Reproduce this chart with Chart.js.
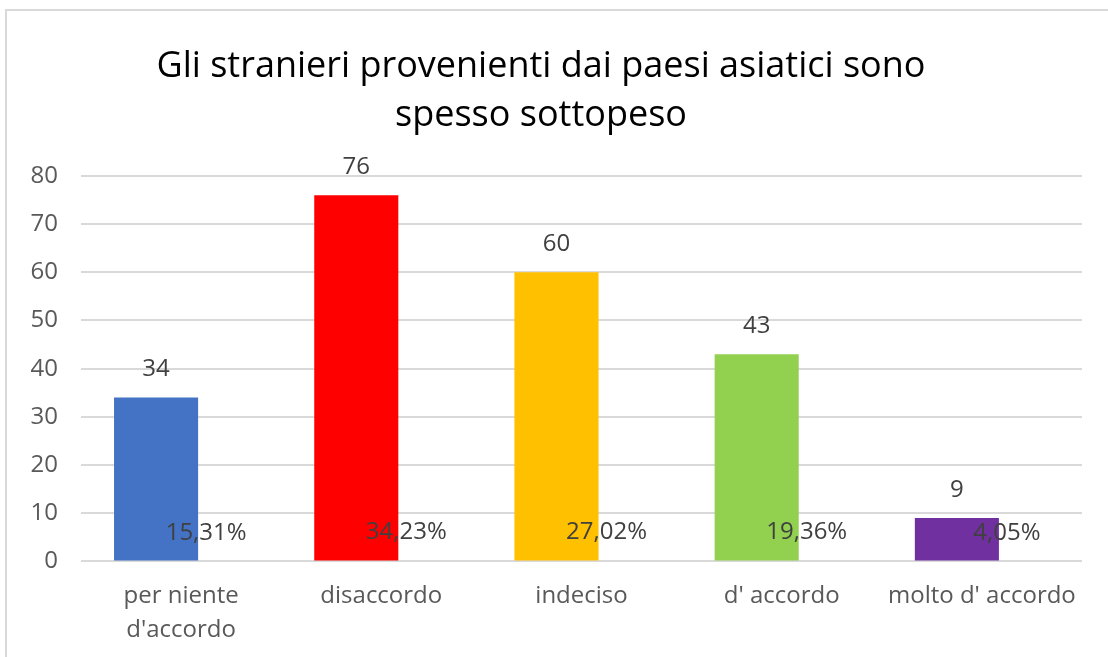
<!DOCTYPE html>
<html>
<head>
<meta charset="utf-8">
<script src="https://cdn.jsdelivr.net/npm/chart.js@4.4.1/dist/chart.umd.min.js"></script>
<style>
  html, body { margin: 0; padding: 0; background: #ffffff; overflow: hidden; }
  #wrap { position: relative; width: 1108px; height: 657px; }
  #frame { position: absolute; left: 5px; top: 9px; width: 1200px; height: 700px;
           border: 2px solid #d9d9d9; box-sizing: border-box; pointer-events: none; }
  canvas { position: absolute; left: 0; top: 0; }
</style>
</head>
<body>
<div id="wrap">
  <canvas id="chart" width="1108" height="657"></canvas>
  <div id="frame"></div>
</div>
<script>
// Survey answers and how many respondents chose each one
const categories = [['per niente', "d'accordo"], 'disaccordo', 'indeciso', "d' accordo", "molto d' accordo"];
const counts = [34, 76, 60, 43, 9];
const shares = [0.1531, 0.3423, 0.2702, 0.1936, 0.0405];
const barColors = ['#4472C4', '#FF0000', '#FFC000', '#92D050', '#7030A0'];
const yTicks = [0, 10, 20, 30, 40, 50, 60, 70, 80];
const titleLines = ['Gli stranieri provenienti dai paesi asiatici sono', 'spesso sottopeso'];

const FONT = "'Open Sans', 'Noto Sans', sans-serif";

function formatShare(v) {
  return (v * 100).toFixed(2).replace('.', ',') + '%';
}

// Writes each bar's value a little above its top
const barValueLabels = {
  id: 'barValueLabels',
  afterDatasetsDraw(chart) {
    const ctx = chart.ctx;
    ctx.save();
    ctx.font = '24px ' + FONT;
    ctx.fillStyle = '#404040';
    ctx.textAlign = 'center';
    ctx.textBaseline = 'middle';
    chart.data.datasets.forEach((ds, di) => {
      const meta = chart.getDatasetMeta(di);
      meta.data.forEach((bar, i) => {
        const v = ds.data[i];
        const text = di === 0 ? String(v) : formatShare(v);
        ctx.fillText(text, bar.x, bar.y - 28);
      });
    });
    ctx.restore();
  }
};

new Chart(document.getElementById('chart'), {
  type: 'bar',
  data: {
    labels: categories,
    datasets: [
      {
        label: 'Risposte',
        data: counts,
        backgroundColor: barColors,
        borderWidth: 0,
        categoryPercentage: 0.5,
        barPercentage: 1.68
      },
      {
        label: 'Percentuale',
        data: shares,
        backgroundColor: 'rgba(0,0,0,0)',
        borderWidth: 0,
        categoryPercentage: 0.5,
        barPercentage: 1.68
      }
    ]
  },
  options: {
    responsive: false,
    animation: false,
    devicePixelRatio: 1,
    layout: { padding: { left: 0, right: 26, top: 0, bottom: -8 } },
    plugins: {
      legend: { display: false },
      tooltip: { enabled: false },
      title: {
        display: true,
        text: titleLines,
        color: '#000000',
        font: { family: FONT, size: 36, weight: 'normal', lineHeight: 1.36 },
        padding: { top: 42, bottom: 36 }
      }
    },
    scales: {
      x: {
        grid: { display: false, drawTicks: false },
        border: { display: false },
        ticks: {
          color: '#595959',
          font: { family: FONT, size: 24, lineHeight: 1.45 },
          padding: 17,
          maxRotation: 0,
          autoSkip: false
        }
      },
      y: {
        min: 0,
        max: 80,
        afterFit(scale) { scale.width = 81; },
        afterBuildTicks(scale) { scale.ticks = yTicks.map(v => ({ value: v })); },
        grid: { color: '#d9d9d9', lineWidth: 2, drawTicks: false },
        border: { display: false },
        ticks: {
          color: '#595959',
          font: { family: FONT, size: 24 },
          padding: 23
        }
      }
    }
  },
  plugins: [barValueLabels]
});
</script>
</body>
</html>
